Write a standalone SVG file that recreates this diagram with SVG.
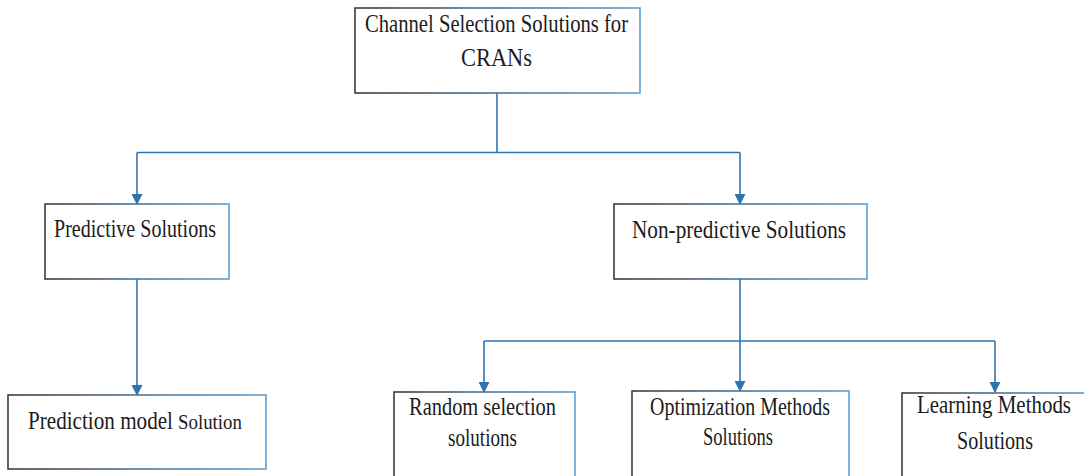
<svg xmlns="http://www.w3.org/2000/svg" width="1084" height="476" viewBox="0 0 1084 476">
  <style>
    .box { fill: #ffffff; stroke: url(#edge); stroke-width: 1.6; }
    .lbl { font-family: "Liberation Serif", "DejaVu Serif", serif; font-size: 20px; fill: #1c1c1c; }
    .wire { fill: none; stroke: #2f74b0; stroke-width: 1.6; }
    .tip { fill: none; stroke: #2f74b0; stroke-width: 1.6; marker-end: url(#arrow); }
  </style>
  <defs>
    <!-- box outline fades from dark grey on the left to blue on the right -->
    <linearGradient id="edge" x1="0" y1="0" x2="1" y2="0">
      <stop offset="0" stop-color="#3c3c3c"/>
      <stop offset="0.45" stop-color="#4f6f8c"/>
      <stop offset="1" stop-color="#5b9fd6"/>
    </linearGradient>
    <marker id="arrow" markerUnits="userSpaceOnUse" markerWidth="11" markerHeight="11" refX="10" refY="5.5" orient="auto">
      <path d="M0,0 L11,5.5 L0,11 z" fill="#2f74b0"/>
    </marker>
  </defs>

  <!-- connectors -->
  <g id="connectors">
    <polyline class="wire" points="497,93 497,152.5"/>
    <polyline class="wire" points="137,152.5 740,152.5"/>
    <line class="tip" x1="137" y1="152.5" x2="137" y2="204"/>
    <line class="tip" x1="740" y1="152.5" x2="740" y2="204"/>
    <line class="tip" x1="137" y1="279" x2="137" y2="395"/>
    <polyline class="wire" points="740,279 740,341"/>
    <polyline class="wire" points="484,341 995,341"/>
    <line class="tip" x1="484" y1="341" x2="484" y2="392"/>
    <line class="tip" x1="740" y1="341" x2="740" y2="391"/>
    <line class="tip" x1="995" y1="341" x2="995" y2="392"/>
  </g>

  <g id="root">
    <rect class="box" x="355" y="8" width="285" height="85"/>
    <text class="lbl" text-anchor="middle" textLength="263" lengthAdjust="spacingAndGlyphs" transform="translate(496.5,32) scale(1,1.28)">Channel Selection Solutions for</text>
    <text class="lbl" text-anchor="middle" textLength="71" lengthAdjust="spacingAndGlyphs" transform="translate(496.5,66) scale(1,1.28)">CRANs</text>
  </g>

  <g id="predictive">
    <rect class="box" x="45" y="204" width="184" height="75"/>
    <text class="lbl" text-anchor="middle" textLength="162" lengthAdjust="spacingAndGlyphs" transform="translate(135,237) scale(1,1.28)">Predictive Solutions</text>
  </g>

  <g id="non-predictive">
    <rect class="box" x="614" y="204" width="253" height="75"/>
    <text class="lbl" text-anchor="middle" textLength="214" lengthAdjust="spacingAndGlyphs" transform="translate(739,238) scale(1,1.28)">Non-predictive Solutions</text>
  </g>

  <g id="prediction-model">
    <rect class="box" x="8" y="395" width="258" height="74"/>
    <text class="lbl" textLength="145" lengthAdjust="spacingAndGlyphs" transform="translate(28,429) scale(1,1.3)">Prediction model</text>
    <text class="lbl" style="font-size:18px" textLength="64" lengthAdjust="spacingAndGlyphs" transform="translate(178,429) scale(1,1.2)">Solution</text>
  </g>

  <g id="random">
    <rect class="box" x="394" y="392" width="181" height="95"/>
    <text class="lbl" text-anchor="middle" textLength="147" lengthAdjust="spacingAndGlyphs" transform="translate(482.5,415) scale(1,1.28)">Random selection</text>
    <text class="lbl" text-anchor="middle" textLength="69" lengthAdjust="spacingAndGlyphs" transform="translate(482.5,446) scale(1,1.28)">solutions</text>
  </g>

  <g id="optimization">
    <rect class="box" x="632" y="391" width="217" height="96"/>
    <text class="lbl" text-anchor="middle" textLength="180" lengthAdjust="spacingAndGlyphs" transform="translate(740,415) scale(1,1.28)">Optimization Methods</text>
    <text class="lbl" text-anchor="middle" textLength="70" lengthAdjust="spacingAndGlyphs" transform="translate(738,445) scale(1,1.28)">Solutions</text>
  </g>

  <g id="learning">
    <rect class="box" x="902" y="393" width="200" height="94"/>
    <text class="lbl" text-anchor="middle" textLength="154" lengthAdjust="spacingAndGlyphs" transform="translate(994,413) scale(1,1.28)">Learning Methods</text>
    <text class="lbl" text-anchor="middle" textLength="76" lengthAdjust="spacingAndGlyphs" transform="translate(995,449) scale(1,1.28)">Solutions</text>
  </g>
</svg>
